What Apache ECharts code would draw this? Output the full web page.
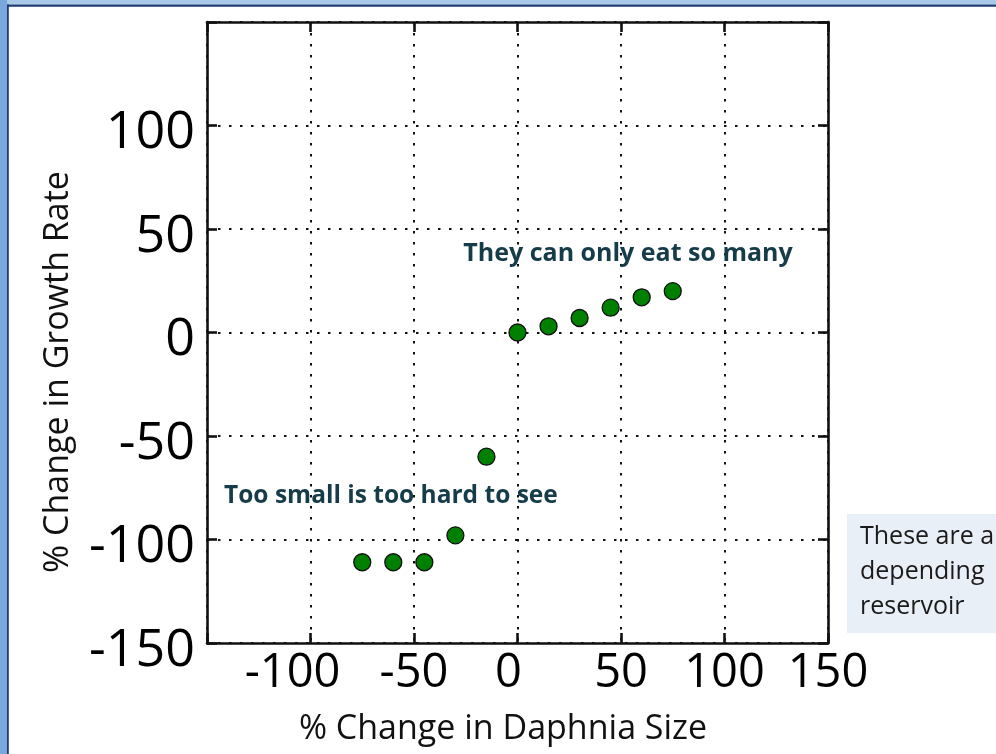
<!DOCTYPE html>
<html>
<head>
<meta charset="utf-8">
<script src="https://cdn.jsdelivr.net/npm/echarts@6/dist/echarts.min.js"></script>
<style>
  html, body { margin: 0; padding: 0; background: #ffffff; }
  #chart { width: 996px; height: 754px; }
</style>
</head>
<body>
<div id="chart"></div>
<script>
// Daphnia size change vs. growth rate change
const sizeChange   = [-75, -60, -45, -30, -15, 0, 15, 30, 45, 60, 75];
const growthChange = [-111, -111, -111, -98, -60, 0, 3, 7, 12, 17, 20];
const xTicks = [-150, -100, -50, 0, 50, 100, 150];
const yTicks = [-150, -100, -50, 0, 50, 100, 150];

const FONT = 'Open Sans';
const NOTE = '#163c4a';
const points = sizeChange.map((x, i) => [x, growthChange[i]]);

const chart = echarts.init(document.getElementById('chart'), null, { renderer: 'canvas' });

const gridDots = { show: true, lineStyle: { color: '#111', width: 2, type: [2.5, 8.5] } };
const frameLine = { show: true, onZero: false, lineStyle: { color: '#111', width: 2.6 } };
const innerTick = { show: true, inside: true, length: 10, lineStyle: { color: '#111', width: 2.6 } };

chart.setOption({
  backgroundColor: '#ffffff',
  animation: false,
  grid: { left: 207, top: 22, width: 621, height: 621, containLabel: false },
  xAxis: [{
    type: 'value', position: 'bottom',
    min: xTicks[0], max: xTicks[xTicks.length - 1], interval: xTicks[1] - xTicks[0],
    axisLine: frameLine, axisTick: innerTick, splitLine: gridDots,
    axisLabel: {
      margin: 7, color: '#000', fontFamily: FONT, fontSize: 47,
      formatter: v => v === xTicks[0] ? '' : v === -100 ? '{a|' + v + '}' : v === 0 ? '{b|' + v + '}' : String(v),
      rich: {
        a: { fontFamily: FONT, fontSize: 47, color: '#000', padding: [0, 36, 0, 0] },
        b: { fontFamily: FONT, fontSize: 47, color: '#000', padding: [0, 18, 0, 0] }
      }
    }
  }, {
    type: 'value', position: 'top',
    min: xTicks[0], max: xTicks[xTicks.length - 1], interval: xTicks[1] - xTicks[0],
    axisLine: frameLine, axisTick: innerTick, splitLine: { show: false }, axisLabel: { show: false }
  }],
  yAxis: [{
    type: 'value', position: 'left',
    min: yTicks[0], max: yTicks[yTicks.length - 1], interval: yTicks[1] - yTicks[0],
    axisLine: frameLine, axisTick: innerTick, splitLine: gridDots,
    axisLabel: {
      margin: 12, color: '#000', fontFamily: FONT, fontSize: 52,
      formatter: v => v === yTicks[yTicks.length - 1] ? '' : '{t|' + v + '}',
      rich: {
        t: { fontFamily: FONT, fontSize: 52, color: '#000', padding: [16, 0, 0, 0] }
      }
    }
  }, {
    type: 'value', position: 'right',
    min: yTicks[0], max: yTicks[yTicks.length - 1], interval: yTicks[1] - yTicks[0],
    axisLine: frameLine, axisTick: innerTick, splitLine: { show: false }, axisLabel: { show: false }
  }],
  series: [{
    type: 'scatter',
    data: points,
    symbol: 'circle',
    symbolSize: 17,
    itemStyle: { color: '#008000', borderColor: '#111', borderWidth: 1.3, opacity: 1 },
    z: 5
  }],
  graphic: [
    // slide frame: light blue band with a navy rule along the top and left edges
    { type: 'rect', shape: { x: 0, y: 0, width: 996, height: 4.5 }, style: { fill: '#a9c9ea' }, silent: true },
    { type: 'rect', shape: { x: 0, y: 0, width: 7, height: 754 }, style: { fill: '#78a8dc' }, silent: true },
    { type: 'rect', shape: { x: 7, y: 4.5, width: 989, height: 2.2 }, style: { fill: '#1d3c73' }, silent: true },
    { type: 'rect', shape: { x: 7, y: 4.5, width: 1.8, height: 750 }, style: { fill: '#1d3c73' }, silent: true },
    // axis titles
    {
      type: 'text', x: 503, y: 729,
      style: { text: '% Change in Daphnia Size', font: '34px "Open Sans"', fill: '#111', textAlign: 'center', textVerticalAlign: 'middle' }
    },
    {
      type: 'text', x: 58, y: 372, rotation: Math.PI / 2,
      style: { text: '% Change in Growth Rate', font: '34px "Open Sans"', fill: '#111', textAlign: 'center', textVerticalAlign: 'middle' }
    },
    // notes inside the plot
    {
      type: 'text', x: 628, y: 254,
      style: { text: 'They can only eat so many', font: 'bold 25px "Open Sans"', fill: NOTE, textAlign: 'center', textVerticalAlign: 'middle' }, z: 10
    },
    {
      type: 'text', x: 224, y: 496,
      style: { text: 'Too small is too hard to see', font: 'bold 24.5px "Open Sans"', fill: NOTE, textAlign: 'left', textVerticalAlign: 'middle' }, z: 10
    },
    // side text box
    { type: 'rect', shape: { x: 847, y: 514, width: 160, height: 119 }, style: { fill: '#e9eff6' }, silent: true },
    {
      type: 'text', x: 860, y: 519,
      style: { text: 'These are a\ndepending\nreservoir', font: '25px "Open Sans"', lineHeight: 35, fill: '#1a1a1a', textAlign: 'left', textVerticalAlign: 'top' }
    }
  ]
});
</script>
</body>
</html>
